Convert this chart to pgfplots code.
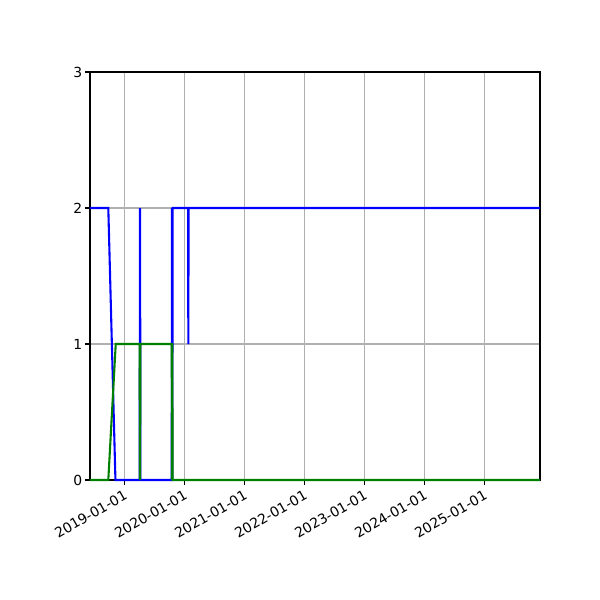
\documentclass[border=0pt]{standalone}
\usepackage{fontspec}
\setmainfont{DejaVu Sans}
\usepackage{pgfplots}
\pgfplotsset{compat=1.18}
\definecolor{mplblue}{RGB}{0,0,255}
\definecolor{mplgreen}{RGB}{0,128,0}
\definecolor{gridgray}{RGB}{176,176,176}
\begin{document}
\begin{tikzpicture}[x=1pt,y=1pt]
\path[use as bounding box] (-64.8,-86.4) rectangle (367.2,345.6);
\begin{axis}[
  at={(0,0)}, anchor=south west,
  scale only axis, width=324pt, height=293.76pt,
  xmin=2018.428, xmax=2025.928, ymin=0, ymax=3,
  ytick={0,1,2,3},
  xtick={2019,2020,2021,2022,2023,2024,2025},
  xticklabels={2019-01-01,2020-01-01,2021-01-01,2022-01-01,2023-01-01,2024-01-01,2025-01-01},
  x tick label style={rotate=30, anchor=north east, inner sep=2.2pt},
  y tick label style={inner sep=2pt},
  tick label style={font=\fontsize{10}{12}\selectfont},
  /pgf/number format/assume math mode=true,
  grid=major, major grid style={gridgray, line width=0.8pt},
  tick align=outside, tick pos=left, major tick length=3.5pt,
  tick style={black, line width=0.8pt},
  axis line style={line width=0.8pt},
  clip=false,
]
% blue series
\addplot[mplblue, line width=1.5pt, mark=none, sharp plot] coordinates {
  (2018.428,2) (2018.733,2) (2018.852,0) (2019.255,0) (2019.262,2) (2019.269,0)
  (2019.790,0) (2019.795,2) (2019.800,0) (2019.805,2) (2020.063,2) (2020.067,1)
  (2020.071,2) (2025.928,2)
};
% green series
\addplot[mplgreen, line width=1.5pt, mark=none, sharp plot] coordinates {
  (2018.428,0) (2018.733,0) (2018.857,1) (2019.255,1) (2019.262,0) (2019.269,1)
  (2019.790,1) (2019.795,0) (2019.800,1) (2019.805,0) (2025.928,0)
};
\end{axis}
\end{tikzpicture}
\end{document}
